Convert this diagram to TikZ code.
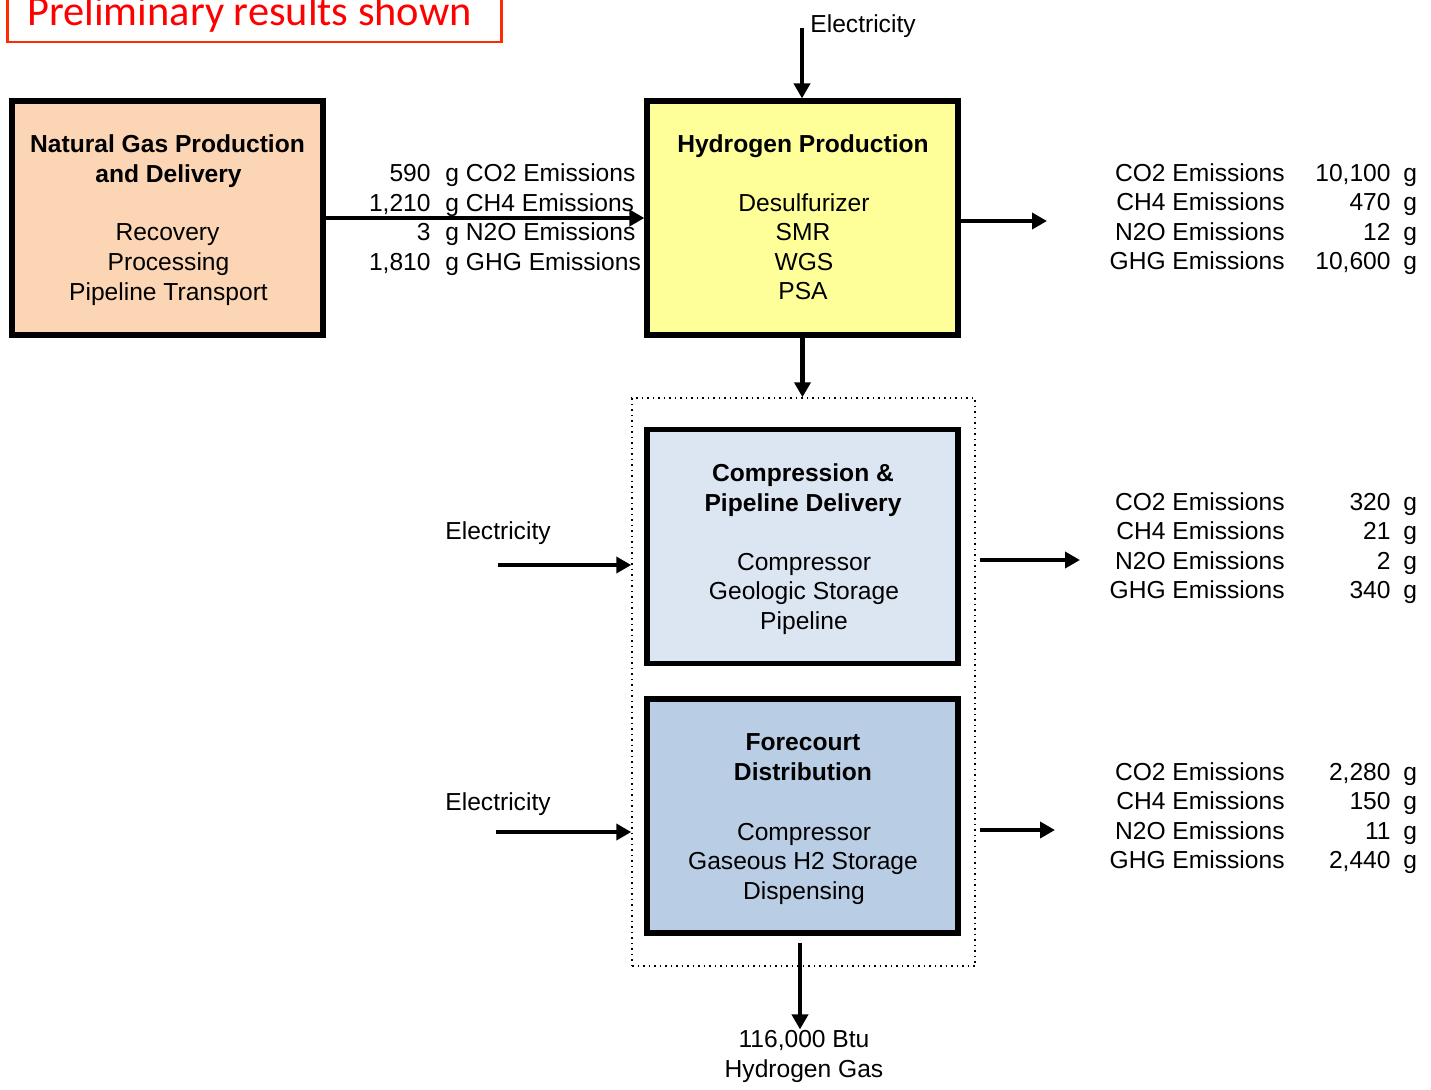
\documentclass[tikz,border=0pt]{standalone}
\usepackage{fontspec}
\setmainfont{Liberation Sans}
\newfontfamily\calfont{Carlito}
\usetikzlibrary{arrows.meta}
\definecolor{ngfill}{HTML}{FCD5B5}
\definecolor{hfill}{HTML}{FFFF99}
\definecolor{cpfill}{HTML}{DCE6F2}
\definecolor{fcfill}{HTML}{B9CDE5}
\definecolor{prelimline}{HTML}{FF2A00}
\begin{document}
\begin{tikzpicture}[x=0.5pt,y=-0.5pt,
  every node/.style={font=\fontsize{12.3}{14.75}\selectfont, inner sep=0pt},
  procbox/.style={draw=black, line width=2.6pt, minimum width=155.5pt, minimum height=117pt},
  flow/.style={line width=2.4pt, -{Triangle[length=7.5pt,width=8pt]}},
  groupbox/.style={draw=black, dotted, line width=0.75pt, minimum width=171.5pt, minimum height=284pt},
  lbl/.style={anchor=base},
  lble/.style={anchor=base east},
  lblw/.style={anchor=base west}]
\useasboundingbox (0,0) rectangle (1431,1089);
\clip (0,0) rectangle (1431,1089);

% preliminary banner
\node[draw=prelimline, line width=1.25pt, minimum width=247pt, minimum height=31pt] (prelim) at (254.5,11) {};
\node[lbl, font=\calfont\fontsize{21.2}{25}\selectfont, text=red] (prelimtxt) at (249.5,25) {Preliminary results shown};

% boxes
\node[groupbox] (grp) at (803.5,682) {};
\node[procbox, fill=ngfill] (ng) at (167.5,218) {};
\node[procbox, fill=hfill] (h2) at (802.5,218) {};
\node[procbox, fill=cpfill] (cp) at (802.5,546.5) {};
\node[procbox, fill=fcfill] (fc) at (802.5,816) {};

% box texts
\node[lbl] (ngt1) at (167.5,152) {\bfseries Natural Gas Production};
\node[lbl] (ngt2) at (168.5,182) {\bfseries and Delivery};
\node[lbl] (ngt3) at (167.5,240) {Recovery};
\node[lbl] (ngt4) at (168.5,270) {Processing};
\node[lbl] (ngt5) at (168.5,300) {Pipeline Transport};

\node[lbl] (ht1) at (803,152) {\bfseries Hydrogen Production};
\node[lbl] (ht2) at (804,211) {Desulfurizer};
\node[lbl] (ht3) at (803,240) {SMR};
\node[lbl] (ht4) at (804,270) {WGS};
\node[lbl] (ht5) at (803,299) {PSA};

\node[lbl] (ct1) at (803,481) {\bfseries Compression \&};
\node[lbl] (ct2) at (803,511) {\bfseries Pipeline Delivery};
\node[lbl] (ct3) at (804,570) {Compressor};
\node[lbl] (ct4) at (804,599) {Geologic Storage};
\node[lbl] (ct5) at (804,629) {Pipeline};

\node[lbl] (ft1) at (803,750) {\bfseries Forecourt};
\node[lbl] (ft2) at (803,780) {\bfseries Distribution};
\node[lbl] (ft3) at (804,840) {Compressor};
\node[lbl] (ft4) at (803,869) {Gaseous H2 Storage};
\node[lbl] (ft5) at (804,899) {Dispensing};

% left emission list
\node[lble] (ln1) at (431,181) {590};
\node[lblw] (lt1) at (445,181) {g CO2 Emissions};
\node[lble] (ln2) at (431,211) {1,210};
\node[lblw] (lt2) at (445,211) {g CH4 Emissions};
\node[lble] (ln3) at (431,240) {3};
\node[lblw] (lt3) at (445,240) {g N2O Emissions};
\node[lble] (ln4) at (431,270) {1,810};
\node[lblw] (lt4) at (445,270) {g GHG Emissions};

% right emission lists
\foreach \base/\a/\b/\c/\d [count=\k] in {181/{10,100}/470/12/{10,600}, 510/320/21/2/340, 780/{2,280}/150/11/{2,440}} {
  \node[lble] (ra\k) at (1285,\base) {CO2 Emissions};
  \node[lble] (rb\k) at (1285,\base+29.5) {CH4 Emissions};
  \node[lble] (rc\k) at (1285,\base+59) {N2O Emissions};
  \node[lble] (rd\k) at (1285,\base+88.5) {GHG Emissions};
  \node[lble] (na\k) at (1391,\base) {\a};
  \node[lble] (nb\k) at (1391,\base+29.5) {\b};
  \node[lble] (nc\k) at (1391,\base+59) {\c};
  \node[lble] (nd\k) at (1391,\base+88.5) {\d};
  \node[lblw] (ga\k) at (1403,\base) {g};
  \node[lblw] (gb\k) at (1403,\base+29.5) {g};
  \node[lblw] (gc\k) at (1403,\base+59) {g};
  \node[lblw] (gd\k) at (1403,\base+88.5) {g};
}

% electricity labels
\node[lblw] (elec1) at (810,32) {Electricity};
\node[lblw] (elec2) at (445,539) {Electricity};
\node[lblw] (elec3) at (445,810) {Electricity};

% output labels
\node[lbl] (btu) at (804,1047) {116,000 Btu};
\node[lbl] (h2gas) at (804,1077) {Hydrogen Gas};

% connectors
\coordinate (etop) at (802,28);
\draw[flow] (etop) -- (etop |- h2.north);
\draw[flow] (ng.east) -- (h2.west);
\coordinate (h2o) at (1047,221);
\draw[flow] (h2.east |- h2o) -- (h2o);
\draw[flow] (h2.south) -- (h2.south |- grp.north);
\coordinate (e1) at (498,565);
\draw[flow] (e1) -- (e1 -| grp.west);
\coordinate (e2) at (496,832);
\draw[flow] (e2) -- (e2 -| grp.west);
\coordinate (cpos) at (980,560);
\coordinate (cpoe) at (1080,560);
\draw[flow] (cpos) -- (cpoe);
\coordinate (fcos) at (980,830);
\coordinate (fcoe) at (1055,830);
\draw[flow] (fcos) -- (fcoe);
\coordinate (bs) at (800,943);
\draw[flow] (bs) -- (bs |- btu.north);
\end{tikzpicture}
\end{document}
